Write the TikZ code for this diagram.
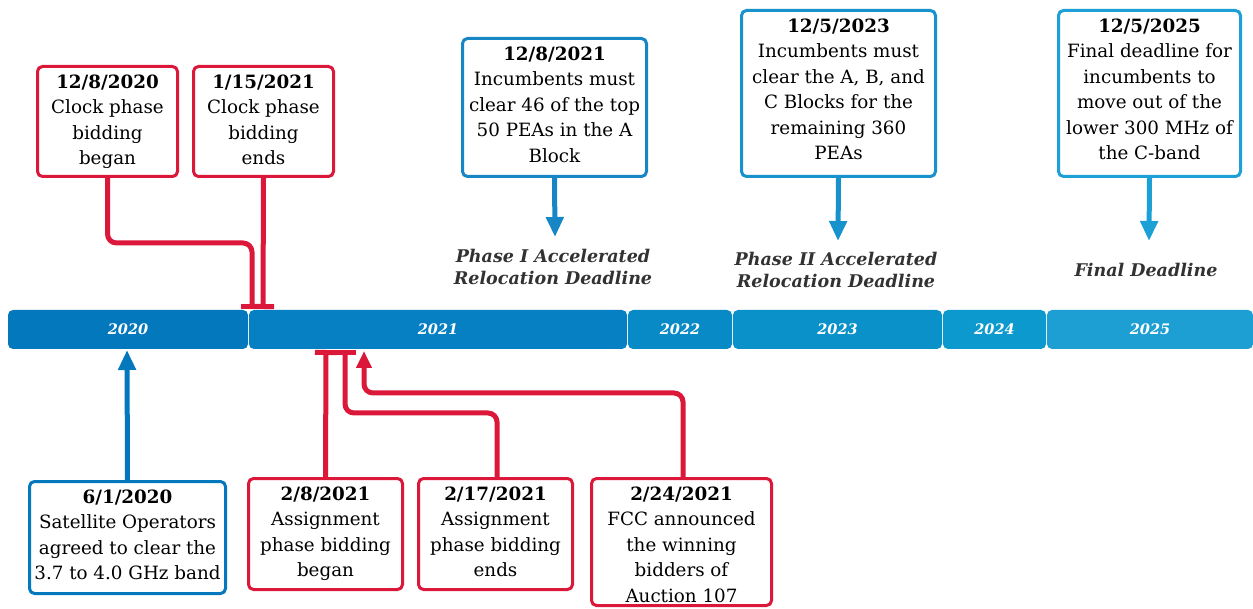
\documentclass[tikz,border=0pt]{standalone}
\usepackage{fontspec}
\setmainfont{DejaVu Serif}
\usetikzlibrary{arrows.meta}
\definecolor{cred}{RGB}{220,24,58}
\definecolor{b2020}{RGB}{4,120,188}
\definecolor{b2021}{RGB}{6,128,194}
\definecolor{b2022}{RGB}{8,138,198}
\definecolor{b2023}{RGB}{10,145,201}
\definecolor{b2024}{RGB}{12,153,206}
\definecolor{b2025}{RGB}{30,159,212}
\definecolor{bC}{RGB}{22,134,196}
\definecolor{bD}{RGB}{24,146,204}
\definecolor{bE}{RGB}{28,160,214}
\definecolor{lbl}{RGB}{50,50,50}
\newcommand\evdate[1]{\rule{0pt}{15pt}\textbf{#1}}
\begin{document}
\begin{tikzpicture}[x=1pt,y=-1pt,
  evbox/.style={draw, line width=3pt, rounded corners=5pt, fill=white, inner sep=0pt},
  evtext/.style={anchor=north, yshift=-8pt, align=center, inner sep=0pt, font=\fontsize{18.3}{25.5}\selectfont},
  seg/.style={rounded corners=5pt, inner sep=0pt, minimum height=39pt, text=white, font=\fontsize{14.5}{16}\selectfont\bfseries\itshape},
  conn/.style={line width=5pt, rounded corners=9pt},
  teetip/.style={-{Bar[width=22pt]}},
  arrtip/.style={-{Triangle[width=17pt,length=20pt]}},
  phase/.style={align=center, text=lbl, inner sep=0pt, font=\fontsize{17.5}{22}\selectfont\bfseries\itshape}
]
\useasboundingbox (0,0) rectangle (1253,609);
% timeline
\node[seg, fill=b2020, minimum width=240pt] (y2020) at (128,329.5) {2020};
\node[seg, fill=b2021, minimum width=378pt] (y2021) at (438,329.5) {2021};
\node[seg, fill=b2022, minimum width=104pt] (y2022) at (680,329.5) {2022};
\node[seg, fill=b2023, minimum width=209pt] (y2023) at (837.5,329.5) {2023};
\node[seg, fill=b2024, minimum width=103pt] (y2024) at (994.5,329.5) {2024};
\node[seg, fill=b2025, minimum width=206pt] (y2025) at (1150,329.5) {2025};
% end coordinates
\coordinate (tA) at (252,309);
\coordinate (tB) at (263,309);
\coordinate (tC) at (555,237);
\coordinate (tD) at (838,241);
\coordinate (tE) at (1149,241);
\coordinate (tF) at (127,350);
\coordinate (tG) at (326,350);
\coordinate (tH) at (345,350);
\coordinate (tI) at (364,351);
% boxes
\node[evbox, draw=cred, minimum width=140pt, minimum height=110pt] (A) at (107.5,121.5) {};
\node[evbox, draw=cred, minimum width=140pt, minimum height=110pt] (B) at (263.5,121.5) {};
\node[evbox, draw=bC, minimum width=184pt, minimum height=138pt] (C) at (554.5,107.5) {};
\node[evbox, draw=bD, minimum width=194pt, minimum height=166pt] (D) at (838.5,93.5) {};
\node[evbox, draw=bE, minimum width=182pt, minimum height=166pt] (E) at (1149.5,93.5) {};
\node[evbox, draw=b2020, minimum width=196pt, minimum height=112pt] (F) at (127.5,537.5) {};
\node[evbox, draw=cred, minimum width=154pt, minimum height=111pt] (G) at (325.5,534) {};
\node[evbox, draw=cred, minimum width=154pt, minimum height=111pt] (H) at (495.5,534) {};
\node[evbox, draw=cred, minimum width=180pt, minimum height=127pt] (I) at (681.5,542) {};
% box texts
\node[evtext] (At) at (A.north) {\evdate{12/8/2020}\\Clock phase\\bidding\\began};
\node[evtext] (Bt) at (B.north) {\evdate{1/15/2021}\\Clock phase\\bidding\\ends};
\node[evtext] (Ct) at (C.north) {\evdate{12/8/2021}\\Incumbents must\\clear 46 of the top\\50 PEAs in the A\\Block};
\node[evtext] (Dt) at (D.north) {\evdate{12/5/2023}\\Incumbents must\\clear the A, B, and\\C Blocks for the\\remaining 360\\PEAs};
\node[evtext] (Et) at (E.north) {\evdate{12/5/2025}\\Final deadline for\\incumbents to\\move out of the\\lower 300 MHz of\\the C-band};
\node[evtext] (Ft) at (F.north) {\evdate{6/1/2020}\\Satellite Operators\\agreed to clear the\\3.7 to 4.0 GHz band};
\node[evtext] (Gt) at (G.north) {\evdate{2/8/2021}\\Assignment\\phase bidding\\began};
\node[evtext] (Ht) at (H.north) {\evdate{2/17/2021}\\Assignment\\phase bidding\\ends};
\node[evtext] (It) at (I.north) {\evdate{2/24/2021}\\FCC announced\\the winning\\bidders of\\Auction 107};
% phase labels
\node[phase] (P1) at (553,267) {Phase I Accelerated\\Relocation Deadline};
\node[phase] (P2) at (836,270) {Phase II Accelerated\\Relocation Deadline};
\node[phase] (P3) at (1146,270) {Final Deadline};
% connectors
\draw[conn, cred, teetip] (A.south) -- ++(0,65) -| (tA);
\draw[conn, cred, teetip] (B.south) -- (tB);
\draw[conn, bC, arrtip] (C.south) -- (tC);
\draw[conn, bD, arrtip] (D.south) -- (tD);
\draw[conn, bE, arrtip] (E.south) -- (tE);
\draw[conn, b2020, arrtip] (F.north) -- (tF);
\draw[conn, cred, teetip] (G.north) -- (tG);
\draw[conn, cred, teetip] (H.north) ++(1.5,0) -- ++(0,-64) -| (tH);
\draw[conn, cred, -{Triangle[width=15pt,length=17pt]}] (I.north) ++(1.5,0) -- ++(0,-84) -| (tI);
\end{tikzpicture}
\end{document}
